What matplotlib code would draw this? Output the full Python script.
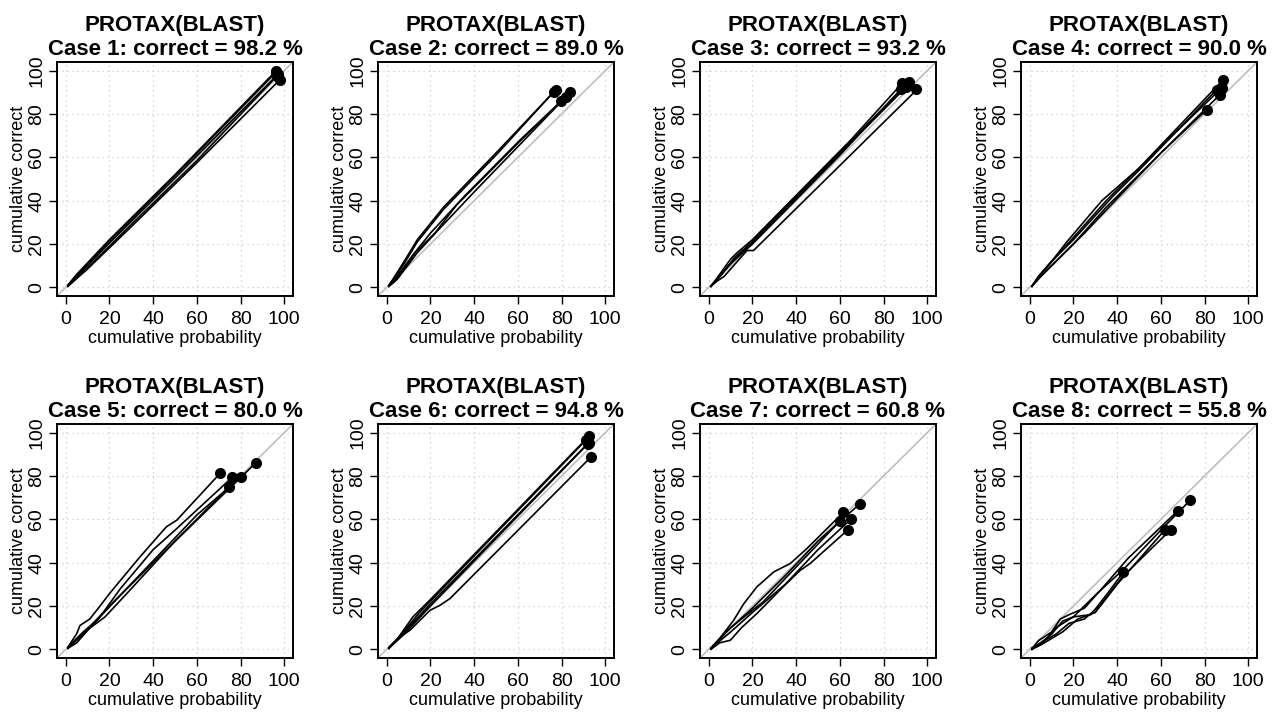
import numpy as np
import matplotlib
matplotlib.use("Agg")
import matplotlib.pyplot as plt

plt.rcParams['font.family'] = ['Liberation Sans', 'DejaVu Sans']

# percent correct shown in each title
cases = [1, 2, 3, 4, 5, 6, 7, 8]
correct = [98.2, 89.0, 93.2, 90.0, 80.0, 94.8, 60.8, 55.8]

# cumulative probability (x) and cumulative correct (y), five curves per case
case1_x = [[1, 5, 20, 50, 96], [1, 5, 20, 50, 96.2], [1, 8, 20, 50, 97.3],
           [1, 10, 30, 60, 96.5], [1, 10, 30, 60, 98]]
case1_y = [[1, 6, 22, 52, 99.7], [1, 5.5, 21.5, 51.5, 99.2], [0.5, 8, 20.5, 50.5, 98.6],
           [0.5, 9, 29, 58.5, 97.4], [0.5, 8.5, 28, 57.5, 95.8]]

case2_x = [[1, 3, 8, 14, 26, 50, 77.4], [1, 3, 8, 14, 26, 50, 76.5],
           [1, 4, 12, 20, 35.5, 61, 79.7], [1, 4, 13, 22, 32, 61, 82],
           [1, 5, 14, 25, 40, 62, 84]]
case2_y = [[1, 4, 12, 22, 37, 62, 91.2], [1, 3.5, 11, 21, 36, 61, 90.3],
           [0.5, 4, 15, 25, 42, 68, 85.8], [0.5, 3, 16, 25, 38, 67.5, 88],
           [0.5, 4, 16, 28, 44, 67, 90]]

case3_x = [[1, 5, 10, 13, 20, 65, 88.6], [1, 5, 11, 20, 50, 91.8],
           [1, 6, 12, 20, 50, 90.3], [1, 4, 9, 20, 60, 88],
           [1, 4, 7, 17.5, 20.5, 93.5, 94.8]]
case3_y = [[0.5, 6, 13, 16, 22, 68, 94.3], [0.5, 5, 12, 21, 52, 95],
           [0.5, 6, 14, 21, 51.5, 92.4], [0.5, 4, 10, 20, 61, 91.5],
           [0.5, 3, 5, 17, 17, 89.5, 91.5]]

case4_x = [[1, 4, 10, 17, 33, 50, 88.5], [1, 5, 12, 20, 35, 60, 87.8],
           [1, 4, 10, 20, 38, 50, 85.5], [1, 5, 15, 20, 35, 55, 87],
           [1, 5, 12, 25, 40, 60, 81]]
case4_y = [[0.5, 5, 12, 21, 40, 55, 95.8], [0.5, 6, 14, 23, 40, 65, 92],
           [0.5, 5, 12, 22, 42, 54, 91.2], [0.5, 5, 15, 20, 37, 57, 88.9],
           [0.5, 5, 12, 25, 41, 62, 82]]

case5_x = [[1, 5, 6.5, 11, 15.7, 20, 34, 46, 50.8, 70.6],
           [1, 8, 15, 25, 40, 50, 76.2],
           [1, 10, 18, 30, 50, 74.8],
           [1, 5, 12, 25, 60, 80],
           [1, 8, 20, 40, 87]]
case5_y = [[1, 7.2, 11, 14, 20, 25.7, 42.7, 56.5, 59.6, 81.2],
           [1, 8, 14, 28, 46, 55, 79.4],
           [1, 9, 15, 28, 50, 75],
           [0.5, 3, 11, 25, 62, 79.4],
           [0.5, 7, 20, 40, 86.1]]

case6_x = [[1, 5, 12, 20, 92.7], [1, 6, 15, 91.2], [1, 8, 20, 92.4],
           [1, 8, 20, 92], [1, 5, 10.6, 19.8, 24.3, 28.9, 92.7, 93.5]]
case6_y = [[1, 5, 15, 23, 98.6], [0.5, 6, 17, 96.6], [0.5, 8, 21, 95.4],
           [0.5, 7, 20, 94.8], [0.5, 5, 8.8, 18, 20.3, 23.4, 88, 88.9]]

case7_x = [[1, 5, 11.4, 16, 22, 29.7, 37.3, 44.9, 61.6],
           [1, 5, 9.9, 15, 22, 34, 41.9, 46.4, 63.5],
           [1, 8, 20, 35, 50, 69.3],
           [1, 10, 25, 40, 60.1],
           [1, 10, 20, 35, 50, 65.1]]
case7_y = [[0.5, 5, 13.4, 21, 28.8, 35.7, 39.6, 46.5, 63.2],
           [0, 3, 4.2, 10, 16.5, 28.8, 36.5, 39.6, 55],
           [0.5, 8, 19, 34, 50, 67.3],
           [0.5, 10, 22, 38, 59.3],
           [0.5, 8, 17, 30, 46, 60.1]]

case8_x = [[1, 5, 10, 15, 20, 30, 43, 60, 73.5],
           [1, 4, 10, 14, 18, 25, 33, 45, 67.7],
           [1, 5, 10, 15, 22, 30, 40, 62],
           [1, 5, 12, 18, 25, 32, 42, 64.6],
           [1, 6, 12, 20, 28, 35, 42.9]]
case8_y = [[0.5, 3, 7, 13, 15, 25, 37, 55, 68.9],
           [0, 4, 8, 14, 16, 19, 28, 42, 63.9],
           [0, 2, 5, 8, 14, 17, 30, 55.3],
           [0, 3, 7, 12, 14, 20, 33, 55.3],
           [0.5, 3, 10, 15, 16, 25, 35.7]]

all_x = [case1_x, case2_x, case3_x, case4_x, case5_x, case6_x, case7_x, case8_x]
all_y = [case1_y, case2_y, case3_y, case4_y, case5_y, case6_y, case7_y, case8_y]

W, H = 1277, 715
fig = plt.figure(figsize=(W / 100, H / 100), dpi=100)

lefts = [57, 378, 700, 1021]
tops = [62, 424]
aw, ah = 236, 234

ticks = [0, 20, 40, 60, 80, 100]

for i in range(8):
    r, c = divmod(i, 4)
    ax = fig.add_axes([lefts[c] / W, 1 - (tops[r] + ah) / H, aw / W, ah / H])
    ax.set_xlim(-4, 104)
    ax.set_ylim(-4, 104)
    for t in ticks:
        ax.axvline(t, color='#cccccc', lw=0.9, ls=(0, (1, 3)), zorder=0)
        ax.axhline(t, color='#cccccc', lw=0.9, ls=(0, (1, 3)), zorder=0)
    ax.plot([-4, 104], [-4, 104], color='#bebebe', lw=1.2, zorder=1)
    for xs, ys in zip(all_x[i], all_y[i]):
        ax.plot(xs, ys, color='black', lw=1.2, zorder=2)
        ax.plot(xs[-1], ys[-1], 'o', color='black', ms=7, zorder=3)
    ax.set_xticks(ticks)
    ax.set_yticks(ticks)
    ax.set_xticklabels([str(t) for t in ticks], fontsize=14)
    ax.set_yticklabels([str(t) for t in ticks], fontsize=14, rotation=90, va='center')
    ax.tick_params(direction='out', length=5.5, width=1)
    ax.tick_params(axis='x', pad=5)
    ax.tick_params(axis='y', pad=3)
    for s in ax.spines.values():
        s.set_linewidth(1.4)
    ax.set_xlabel('cumulative probability', fontsize=13, labelpad=2)
    ax.set_ylabel('cumulative correct', fontsize=13, labelpad=1)
    ax.set_title('PROTAX(BLAST)\nCase %d: correct = %.1f %%' % (cases[i], correct[i]),
                 fontsize=16, fontweight='bold', pad=5, linespacing=1.2)

fig.savefig('out.png', dpi=100)
